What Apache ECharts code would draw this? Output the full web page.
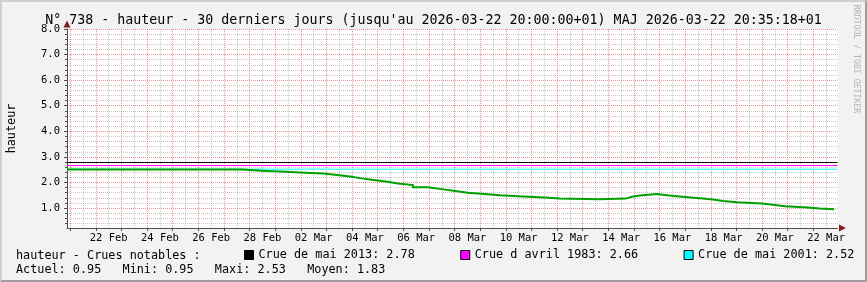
<!DOCTYPE html>
<html><head><meta charset="utf-8">
<script src="https://cdn.jsdelivr.net/npm/echarts@6/dist/echarts.min.js"></script>
<style>
html,body{margin:0;padding:0;background:#f2f2f2;}
#wrap{position:relative;width:867px;height:282px;}
#chart{width:867px;height:282px;}
#frame{position:absolute;left:0;top:0;width:867px;height:282px;box-sizing:border-box;border-style:solid;border-width:2px;border-color:#cfcfcf #9e9e9e #9e9e9e #cfcfcf;pointer-events:none;}
</style></head><body>
<div id="wrap"><div id="chart"></div><div id="frame"></div></div>
<script>
const TZ = '+01:00';
const titleText = "N° 738 - hauteur - 30 derniers jours (jusqu'au 2026-03-22 20:00:00+01) MAJ 2026-03-22 20:35:18+01";
const axisStart = '2026-02-20 21:00';
const axisEnd = '2026-03-22 22:40';
const yMin = 0.22, yMax = 8.0;

const stepTimes = [
 '2026-02-20 21:00','2026-02-27 17:00','2026-02-28 11:30','2026-03-01 10:00','2026-03-02 04:00',
 '2026-03-02 21:00','2026-03-03 10:00','2026-03-03 22:00','2026-03-04 09:00','2026-03-04 20:00',
 '2026-03-05 09:30','2026-03-05 19:00','2026-03-06 09:00','2026-03-06 23:00','2026-03-07 12:00',
 '2026-03-08 00:30','2026-03-08 12:30','2026-03-09 04:30','2026-03-09 18:30','2026-03-10 16:00',
 '2026-03-11 12:30','2026-03-12 02:30','2026-03-13 15:00','2026-03-14 16:30','2026-03-14 22:00',
 '2026-03-15 05:30','2026-03-15 21:30','2026-03-16 07:00','2026-03-16 16:00','2026-03-17 02:30',
 '2026-03-17 16:30','2026-03-18 02:00','2026-03-18 11:30','2026-03-19 00:30','2026-03-20 00:00',
 '2026-03-20 10:00','2026-03-20 21:30','2026-03-21 19:00','2026-03-22 06:00','2026-03-22 19:30'
];
const stepValues = [
 2.51,2.46,2.42,2.38,2.35,
 2.29,2.23,2.16,2.10,2.03,
 1.96,1.90,1.81,1.74,1.67,
 1.60,1.55,1.50,1.45,1.41,
 1.37,1.34,1.37,1.44,1.49,
 1.55,1.50,1.46,1.42,1.37,
 1.33,1.28,1.23,1.18,1.13,
 1.07,1.02,0.98,0.95,0.95
];

const thresholdNames = ['Crue de mai 2013','Crue d avril 1983','Crue de mai 2001'];
const thresholdValues = [2.78, 2.66, 2.52];
const thresholdColors = ['#000000','#ff00ff','#00ffff'];

const xLabelDays = ['2026-02-22','2026-02-24','2026-02-26','2026-02-28','2026-03-02','2026-03-04',
 '2026-03-06','2026-03-08','2026-03-10','2026-03-12','2026-03-14','2026-03-16','2026-03-18',
 '2026-03-20','2026-03-22'];
const yMajorTicks = [1,2,3,4,5,6,7,8];

const legendTitle = 'hauteur - Crues notables :';
const statNames = ['Actuel','Mini','Maxi','Moyen'];
const statValues = [0.95, 0.95, 2.53, 1.83];
const yName = 'hauteur';
const watermark = 'RRDTOOL / TOBI OETIKER';

const MONO = "'DejaVu Sans Mono', monospace";
const MONTHS = ['Jan','Feb','Mar','Apr','May','Jun','Jul','Aug','Sep','Oct','Nov','Dec'];
function ts(s){ return new Date(s.replace(' ','T') + ':00' + TZ).getTime(); }
const tMin = ts(axisStart), tMax = ts(axisEnd);
const H = 3600e3;

// grid positions
const midnights = [], noons = [];
for (let t = ts('2026-02-21 00:00'); t <= tMax; t += 24*H) { midnights.push(t); }
for (let t = ts('2026-02-21 12:00'); t <= tMax; t += 24*H) { noons.push(t); }
const xLabelVals = xLabelDays.map(d => ts(d + ' 12:00'));
const yMinorTicks = [];
for (let k = 2; k <= 39; k++) { if (k % 5 !== 0) yMinorTicks.push(+(k*0.2).toFixed(1)); }

function fmtDay(v){
  const d = new Date(v + H);
  const dd = String(d.getUTCDate()).padStart(2,'0');
  return dd + ' ' + MONTHS[d.getUTCMonth()];
}

const AXIS_COL = '#505050';
const MAJOR = {color:'rgba(222,79,79,0.62)', type:[1,1], width:1};
const MINOR = {color:'rgba(143,143,143,0.5)', type:[1,1], width:1};

const chart = echarts.init(document.getElementById('chart'), null, {renderer:'canvas'});
const series = [{
  name:'hauteur', type:'line', step:'end', xAxisIndex:1, yAxisIndex:1,
  data: stepTimes.map((t,i)=>[ts(t), stepValues[i]]),
  showSymbol:false, symbol:'none', silent:true, z:5, smooth:false,
  lineStyle:{color:'#00a000', width:2, cap:'butt', join:'miter'}, itemStyle:{color:'#00a000'}
}];
thresholdNames.forEach((n,i)=>{
  series.push({
    name:n, type:'line', xAxisIndex:1, yAxisIndex:1,
    data:[[tMin, thresholdValues[i]],[tMax, thresholdValues[i]]],
    showSymbol:false, symbol:'none', silent:true, z:4,
    lineStyle:{color:thresholdColors[i], width:1}, itemStyle:{color:thresholdColors[i]}
  });
});

const option = {
  animation:false,
  backgroundColor:'#f2f2f2',
  textStyle:{fontFamily:MONO},
  title:{text:titleText, left:'center', top:14, padding:0,
    textStyle:{fontFamily:MONO, fontSize:13.3, fontWeight:'normal', color:'#000'}},
  grid:{left:67, right:29.5, top:29, bottom:54, show:true, backgroundColor:'#ffffff', borderWidth:0,
    containLabel:false, outerBoundsMode:'none'},
  legend:{
    data:thresholdNames, left:244, top:249, padding:0, itemGap:45.5, itemWidth:9, itemHeight:9,
    icon:'rect', selectedMode:false,
    itemStyle:{borderColor:'#000', borderWidth:1},
    textStyle:{fontFamily:MONO, fontSize:11.8, color:'#000'},
    formatter: name => name + ': ' + thresholdValues[thresholdNames.indexOf(name)].toFixed(2)
  },
  xAxis:[
    {type:'value', min:tMin, max:tMax, position:'bottom', z:0,
     axisLine:{show:false, onZero:false}, axisTick:{show:false, customValues:noons},
     axisLabel:{show:false}, splitLine:{show:true, lineStyle:MINOR}},
    {type:'value', min:tMin, max:tMax, position:'bottom', z:1,
     axisLine:{show:true, onZero:false, lineStyle:{color:AXIS_COL, width:1}},
     axisTick:{show:true, length:3, customValues:midnights, lineStyle:{color:AXIS_COL}},
     axisLabel:{show:true, customValues:xLabelVals, formatter:fmtDay, fontFamily:MONO, fontSize:10.5, color:'#000', margin:5, hideOverlap:false},
     splitLine:{show:true, lineStyle:MAJOR}},
    {type:'value', min:tMin, max:tMax, position:'bottom', z:3,
     axisLine:{show:true, onZero:false, symbol:['none','triangle'], symbolSize:[7,7], symbolOffset:[0,5],
       lineStyle:{color:'#801f1f', opacity:0}},
     axisTick:{show:false}, axisLabel:{show:false}, splitLine:{show:false}}
  ],
  yAxis:[
    {type:'value', min:yMin, max:yMax, position:'left', offset:0, z:0,
     axisLine:{show:false, onZero:false}, axisTick:{show:true, length:2, customValues:yMinorTicks, lineStyle:{color:AXIS_COL}},
     axisLabel:{show:false}, splitLine:{show:true, lineStyle:MINOR}},
    {type:'value', min:yMin, max:yMax, position:'left', offset:0, z:1,
     name:yName, nameLocation:'middle', nameGap:49.5,
     nameTextStyle:{fontFamily:MONO, fontSize:11.8, color:'#000'},
     axisLine:{show:true, onZero:false, lineStyle:{color:AXIS_COL, width:1}},
     axisTick:{show:true, length:3, customValues:yMajorTicks, lineStyle:{color:AXIS_COL}},
     axisLabel:{show:true, customValues:yMajorTicks, formatter:v=>v.toFixed(1), fontFamily:MONO, fontSize:10.5, color:'#000', margin:7},
     splitLine:{show:true, lineStyle:MAJOR}},
    {type:'value', min:yMin, max:yMax, position:'left', offset:0, z:3,
     axisLine:{show:true, onZero:false, symbol:['none','triangle'], symbolSize:[7,7], symbolOffset:[0,5],
       lineStyle:{color:'#801f1f', opacity:0}},
     axisTick:{show:false}, axisLabel:{show:false}, splitLine:{show:false}}
  ],
  graphic:[
    {type:'text', left:16, top:250, silent:true,
     style:{text:legendTitle, font:'11.8px ' + MONO, fill:'#000'}},
    {type:'text', left:16, top:264, silent:true,
     style:{text:statNames.map((n,i)=>n + ': ' + statValues[i].toFixed(2)).join('   '), font:'11.8px ' + MONO, fill:'#000'}},
    {type:'text', x:856.5, y:59, rotation:-Math.PI/2, silent:true,
     style:{text:watermark, font:'8.2px ' + MONO, fill:'#b4b4b4', align:'center', verticalAlign:'middle'}}
  ],
  series: series
};
chart.setOption(option);
</script>
</body></html>
